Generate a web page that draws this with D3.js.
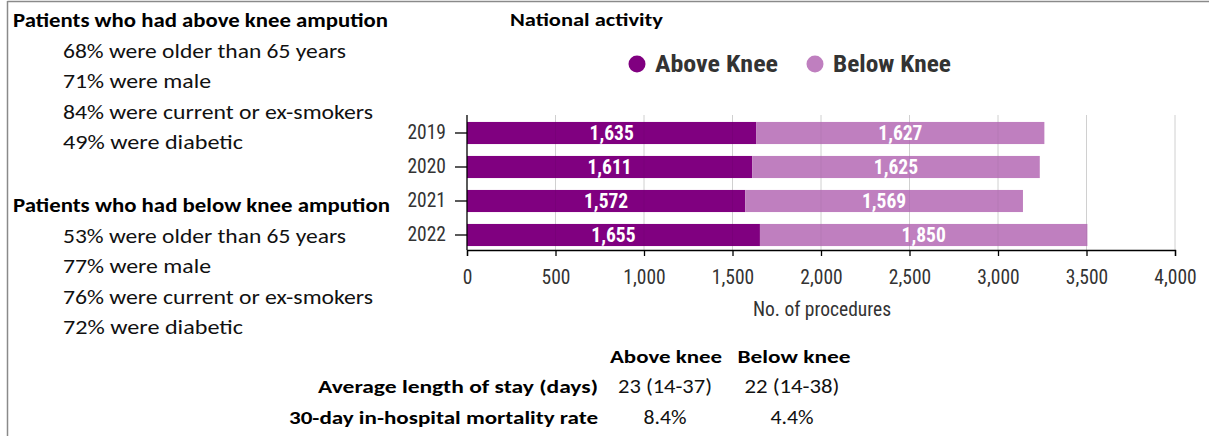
<!DOCTYPE html>
<html>
<head>
<meta charset="utf-8">
<script src="https://cdn.jsdelivr.net/npm/d3@7"></script>
<style>
  html, body { margin: 0; padding: 0; background: #fff; }
  svg { display: block; }
</style>
</head>
<body>
<svg id="chart" width="1209" height="436"></svg>
<script>
// ---------- data ----------
const years = ["2019", "2020", "2021", "2022"];
const aboveKnee = [1635, 1611, 1572, 1655];
const belowKnee = [1627, 1625, 1569, 1850];
const seriesNames = ["Above Knee", "Below Knee"];
const xTicks = [0, 500, 1000, 1500, 2000, 2500, 3000, 3500, 4000];

const aboveTitle = "Patients who had above knee ampution";
const aboveFacts = ["68% were older than 65 years", "71% were male", "84% were current or ex-smokers", "49% were diabetic"];
const belowTitle = "Patients who had below knee ampution";
const belowFacts = ["53% were older than 65 years", "77% were male", "76% were current or ex-smokers", "72% were diabetic"];

const tableCols = ["Above knee", "Below knee"];
const tableRows = ["Average length of stay (days)", "30-day in-hospital mortality rate"];
const tableAbove = ["23 (14-37)", "8.4%"];
const tableBelow = ["22 (14-38)", "4.4%"];

// ---------- setup ----------
const svg = d3.select("#chart");
const colors = d3.scaleOrdinal(seriesNames, ["#800080", "#bf7fbf"]);
const sansC = "Carlito, Calibri, Lato, 'Open Sans', sans-serif";
const cond = "'Roboto Condensed', Roboto, sans-serif";

function fit(sel, w) {
  sel.attr("textLength", w).attr("lengthAdjust", "spacingAndGlyphs");
}

// frame
svg.append("line").attr("x1", 7.5).attr("x2", 1209).attr("y1", 1.5).attr("y2", 1.5)
  .attr("stroke", "#8a8a8a").attr("stroke-width", 1.5);
svg.append("line").attr("x1", 7.5).attr("x2", 7.5).attr("y1", 1).attr("y2", 436)
  .attr("stroke", "#8a8a8a").attr("stroke-width", 1.5);

// ---------- left text blocks ----------
const factWidths = [283, 148, 310, 180];
function block(title, facts, y0, titleW) {
  const t = svg.append("text").attr("x", 13).attr("y", y0)
    .attr("font-family", sansC).attr("font-weight", "bold").attr("font-size", 19.5)
    .attr("fill", "#000").text(title);
  fit(t, titleW);
  facts.forEach((f, i) => {
    const s = svg.append("text").attr("x", 63).attr("y", y0 + 30.5 * (i + 1))
      .attr("font-family", sansC).attr("font-size", 19.5).attr("fill", "#111").text(f);
    fit(s, factWidths[i]);
  });
}
block(aboveTitle, aboveFacts, 27, 375);
block(belowTitle, belowFacts, 212, 377);

// ---------- chart ----------
const x = d3.scaleLinear().domain([0, 4000]).range([467, 1175]);
const y = d3.scaleBand().domain(years).range([116, 252]).paddingInner(0.35).paddingOuter(0.175);
const axisY = 250, gridTop = 115;

// title
const nt = svg.append("text").attr("x", 510).attr("y", 26)
  .attr("font-family", sansC).attr("font-weight", "bold").attr("font-size", 18.5)
  .attr("fill", "#000").text("National activity");
fit(nt, 153);

// legend
const legX = [637, 815];
const legW = [123, 118];
seriesNames.forEach((n, i) => {
  svg.append("circle").attr("cx", legX[i]).attr("cy", 64).attr("r", 8.5).attr("fill", colors(n));
  const t = svg.append("text").attr("x", legX[i] + 18).attr("y", 72)
    .attr("font-family", cond).attr("font-weight", "bold").attr("font-size", 23)
    .attr("fill", "#333").text(n);
  fit(t, legW[i]);
});

// gridlines
const gridG = svg.append("g");
gridG.selectAll("line").data(xTicks.slice(1)).join("line")
  .attr("x1", d => x(d)).attr("x2", d => x(d))
  .attr("y1", gridTop).attr("y2", axisY)
  .attr("stroke", "#dcdcdc").attr("stroke-width", 1);

// stacked bars
const rows = years.map((yr, i) => ({ year: yr, "Above Knee": aboveKnee[i], "Below Knee": belowKnee[i] }));
const stack = d3.stack().keys(seriesNames)(rows);
const layers = svg.append("g").selectAll("g").data(stack).join("g").attr("fill", d => colors(d.key));
layers.selectAll("rect").data(d => d).join("rect")
  .attr("x", d => x(d[0])).attr("width", d => x(d[1]) - x(d[0]))
  .attr("y", d => y(d.data.year)).attr("height", y.bandwidth());

// faint gridlines showing through bars
svg.append("g").selectAll("line").data(xTicks.slice(1)).join("line")
  .attr("x1", d => x(d)).attr("x2", d => x(d))
  .attr("y1", gridTop).attr("y2", axisY)
  .attr("stroke", "#000").attr("stroke-opacity", 0.05).attr("stroke-width", 1);

// value labels
const fmt = d3.format(",");
layers.selectAll("text").data(d => d).join("text")
  .attr("x", d => (x(d[0]) + x(d[1])) / 2)
  .attr("y", d => y(d.data.year) + y.bandwidth() / 2 + 7)
  .attr("text-anchor", "middle")
  .attr("font-family", cond).attr("font-weight", "bold").attr("font-size", 19.5)
  .attr("fill", "#fff").text(d => fmt(d[1] - d[0]));

// x axis
const xAxis = svg.append("g").attr("transform", `translate(0,${axisY})`)
  .call(d3.axisBottom(x).tickValues(xTicks).tickFormat(d3.format(",")).tickSizeOuter(0).tickSize(6));
xAxis.select(".domain").attr("stroke", "#000").attr("stroke-width", 1.3);
xAxis.selectAll(".tick line").attr("stroke", "#000").attr("stroke-width", 1.3);
xAxis.selectAll(".tick text").attr("font-family", cond).attr("font-size", 19.5)
  .attr("fill", "#333").attr("dy", "0").attr("y", 34);

// y axis
const yAxis = svg.append("g").attr("transform", `translate(${x(0)},0)`)
  .call(d3.axisLeft(y).tickSize(12).tickSizeOuter(0));
yAxis.select(".domain").attr("d", `M0,${gridTop}V${axisY}`).attr("stroke", "#000").attr("stroke-width", 1.3);
yAxis.selectAll(".tick line").attr("stroke", "#000").attr("stroke-width", 1.3);
yAxis.selectAll(".tick text").attr("font-family", cond).attr("font-size", 19.5)
  .attr("fill", "#333").attr("x", -21);

// axis title
svg.append("text").attr("x", 822).attr("y", 316).attr("text-anchor", "middle")
  .attr("font-family", cond).attr("font-size", 19.5).attr("fill", "#333")
  .text("No. of procedures");

// ---------- table ----------
const colX = [666, 794];
const colW = [112, 113];
tableCols.forEach((c, i) => {
  const t = svg.append("text").attr("x", colX[i]).attr("y", 363).attr("text-anchor", "middle")
    .attr("font-family", sansC).attr("font-weight", "bold").attr("font-size", 18.5)
    .attr("fill", "#000").text(c);
  fit(t, colW[i]);
});
const rowW = [280, 309];
const valX = [665, 792];
const valW = [[94, 95], [43, 43]];
tableRows.forEach((r, i) => {
  const yy = 393 + 31 * i;
  const t = svg.append("text").attr("x", 598).attr("y", yy).attr("text-anchor", "end")
    .attr("font-family", sansC).attr("font-weight", "bold").attr("font-size", 18.5)
    .attr("fill", "#000").text(r);
  fit(t, rowW[i]);
  [tableAbove[i], tableBelow[i]].forEach((v, j) => {
    const s = svg.append("text").attr("x", valX[j]).attr("y", yy).attr("text-anchor", "middle")
      .attr("font-family", sansC).attr("font-size", 19.5).attr("fill", "#111").text(v);
    fit(s, valW[i][j]);
  });
});
</script>
</body>
</html>
